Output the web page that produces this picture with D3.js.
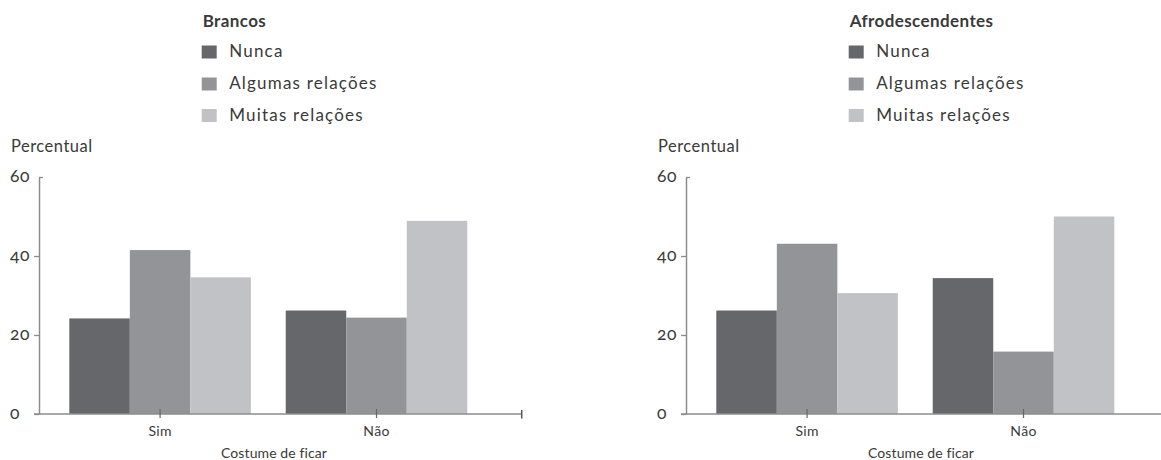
<!DOCTYPE html>
<html>
<head>
<meta charset="utf-8">
<script src="https://cdn.jsdelivr.net/npm/d3@7"></script>
<style>
  html, body { margin: 0; padding: 0; background: #fff; }
  svg text { font-family: Lato, "Open Sans", sans-serif; fill: #3a3a3a; font-feature-settings: "onum" 1; }
</style>
</head>
<body>
<svg id="chart" width="1161" height="460"></svg>
<script>
// ---- data ----
const categories = ["Sim", "Não"];
const seriesNames = ["Nunca", "Algumas relações", "Muitas relações"];
const panelTitles = ["Brancos", "Afrodescendentes"];
const brancosNunca    = [24.2, 26.2];
const brancosAlgumas  = [41.5, 24.4];
const brancosMuitas   = [34.6, 48.9];
const afroNunca       = [26.2, 34.4];
const afroAlgumas     = [43.1, 15.8];
const afroMuitas      = [30.6, 50.0];
const yTicks = [0, 20, 40, 60];
const yLabel = "Percentual";
const xLabel = "Costume de ficar";

const panelValues = [
  [brancosNunca, brancosAlgumas, brancosMuitas],
  [afroNunca, afroAlgumas, afroMuitas]
];
const colors = ["#66676b", "#939498", "#c1c2c6"];

const svg = d3.select("#chart");
const panelOffsets = [0, 647];

function drawPanel(ox, title, vals) {
  const g = svg.append("g").attr("transform", `translate(${ox},0)`);
  const axisX = 39, axisEnd = 521.7;
  const y = d3.scaleLinear().domain([0, 60]).range([414, 177]);
  const x0 = d3.scaleBand().domain(categories).range([69.3, 467.3]).paddingInner(0.161).paddingOuter(0);
  const x1 = d3.scaleBand().domain(seriesNames).range([0, x0.bandwidth()]).padding(0);

  // bars
  categories.forEach((c, ci) => {
    seriesNames.forEach((s, si) => {
      const v = vals[si][ci];
      g.append("rect")
        .attr("x", x0(c) + x1(s))
        .attr("y", y(v))
        .attr("width", x1.bandwidth())
        .attr("height", y(0) - y(v))
        .attr("fill", colors[si]);
    });
  });

  // y axis
  const yAxis = d3.axisLeft(y).tickValues(yTicks).tickSize(5).tickSizeOuter(0).tickPadding(0);
  const ya = g.append("g").attr("transform", `translate(${axisX},0)`).call(yAxis);
  ya.select(".domain").attr("stroke", "#8c8c8c").attr("stroke-width", 1.5);
  ya.selectAll(".tick line").attr("stroke", "#8c8c8c").attr("stroke-width", 1.3);
  ya.selectAll(".tick").filter(d => d === 60).select("line").attr("x2", 4);
  ya.selectAll(".tick text")
    .attr("text-anchor", "start")
    .attr("x", 10 - axisX)
    .attr("dy", null)
    .attr("y", 4.5)
    .attr("font-size", 17.5)
    .attr("letter-spacing", 0.6)
    .style("font-family", "Lato, sans-serif")
    .attr("fill", "#3a3a3a");

  // x axis line
  g.append("line")
    .attr("x1", axisX - 5).attr("x2", axisEnd)
    .attr("y1", y(0)).attr("y2", y(0))
    .attr("stroke", "#8c8c8c").attr("stroke-width", 1.5);
  g.append("line")
    .attr("x1", axisEnd).attr("x2", axisEnd)
    .attr("y1", y(0) - 4).attr("y2", y(0) + 4.5)
    .attr("stroke", "#555").attr("stroke-width", 1.5);

  const xAxis = d3.axisBottom(x0).tickSize(4).tickSizeOuter(0).tickPadding(0);
  const xa = g.append("g").attr("transform", `translate(0,${y(0)})`).call(xAxis);
  xa.select(".domain").remove();
  xa.selectAll(".tick line").attr("y1", -5).attr("stroke", "#666").attr("stroke-width", 1.2);
  xa.selectAll(".tick text")
    .attr("y", 21.5).attr("dy", null)
    .attr("font-size", 14)
    .attr("letter-spacing", 0.3)
    .style("font-family", "Lato, sans-serif")
    .attr("fill", "#3a3a3a");

  // axis titles
  g.append("text").attr("x", 11).attr("y", 152).attr("font-size", 16.5)
    .attr("letter-spacing", 0.5).text(yLabel);
  g.append("text").attr("x", 274).attr("y", 458)
    .attr("text-anchor", "middle").attr("font-size", 14).attr("letter-spacing", 0.1).text(xLabel);

  // legend
  const lx = 201.7;
  g.append("text").attr("x", lx + 1).attr("y", 26.5)
    .attr("font-size", 17).attr("font-weight", "bold").attr("letter-spacing", 0.4).text(title);
  const itemBase = [57, 89, 120.5];
  seriesNames.forEach((s, i) => {
    g.append("rect").attr("x", lx).attr("y", itemBase[i] - 11.5)
      .attr("width", 15).attr("height", 13).attr("fill", colors[i]);
    g.append("text").attr("x", lx + 27.5).attr("y", itemBase[i])
      .attr("font-size", 17).attr("letter-spacing", 1.2).text(s);
  });
}

panelTitles.forEach((t, i) => drawPanel(panelOffsets[i], t, panelValues[i]));
</script>
</body>
</html>
